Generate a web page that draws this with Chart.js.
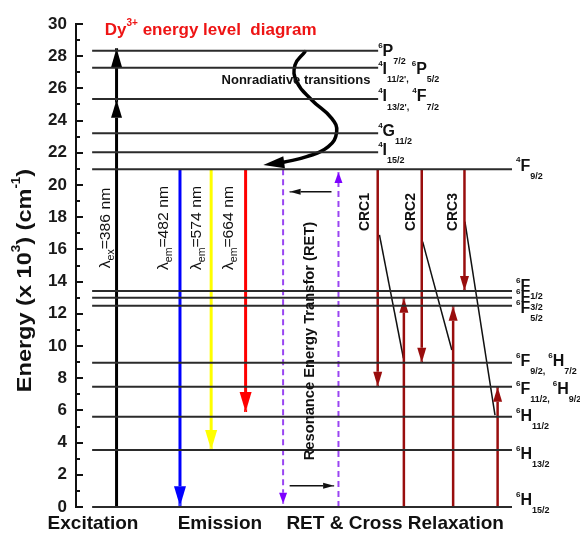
<!DOCTYPE html>
<html><head><meta charset="utf-8">
<script src="https://cdn.jsdelivr.net/npm/chart.js@4.4.0/dist/chart.umd.min.js"></script>
<style>html,body{margin:0;padding:0;background:#fff;}#wrap{width:580px;height:534px;}</style>
</head><body><div id="wrap"><canvas id="c" width="580" height="534"></canvas></div>
<script>
// ================= DATA =================
// Energy levels (x10^3 cm^-1)
const levelEnergies = [28.34, 27.29, 25.34, 23.21, 22.03, 20.98, 13.42, 13.0, 12.5, 8.96, 7.47, 5.61, 3.54, 0];
const levelStartX = 3.7;
const levelEndX = [69.3, 69.3, 69.3, 69.3, 69.3, 100, 100, 100, 100, 100, 100, 100, 100, 100];
// [superscript, term letter, subscript]
const levelLabels = [
  [['6','P','7/2']],
  [['4','I','11/2\','], ['6','P','5/2']],
  [['4','I','13/2\','], ['4','F','7/2']],
  [['4','G','11/2']],
  [['4','I','15/2']],
  [['4','F','9/2']],
  [['6','F','1/2']],
  [['6','F','3/2']],
  [['6','F','5/2']],
  [['6','F','9/2,'], ['6','H','7/2']],
  [['6','F','11/2,'], ['6','H','9/2']],
  [['6','H','11/2']],
  [['6','H','13/2']],
  [['6','H','15/2']]
];
// Excitation
const excitationX = 9.3;
const excitationFrom = 0;
const excitationTip = 28.5;
const excitationMidTip = 25.3;
const excitationLabel = ['λ', 'ex', '=386 nm'];
// Emission (from 4F9/2)
const emissionFrom = 20.98;
const emissionX = [23.85, 31.0, 38.9];
const emissionTip = [0.05, 3.54, 5.9];
const emissionLabels = [['λ','em','=482 nm'], ['λ','em','=574 nm'], ['λ','em','=664 nm']];
// Resonance energy transfer
const retX = [47.5, 60.2];
const retFrom = [20.98, 0];
const retTip = [0.2, 20.8];
const retSmallY = [19.58, 1.32];
const retSmallFromX = [58.6, 49.0];
const retSmallTipX = [49.0, 59.2];
const retLabel = 'Resonance Energy Transfor (RET)';
// Cross relaxation channels
const crcNames = ['CRC1', 'CRC2', 'CRC3'];
const crcDownX = [69.2, 79.3, 89.1];
const crcDownFrom = 20.98;
const crcDownTip = [7.47, 8.96, 13.42];
const crcUpX = [75.2, 86.5, 96.7];
const crcUpFrom = 0;
const crcUpTip = [13.0, 12.5, 7.47];
const crcDiagX0 = [69.6, 79.5, 89.2];
const crcDiagY0 = [16.9, 16.48, 17.72];
const crcDiagX1 = [75.1, 86.2, 96.1];
const crcDiagY1 = [9.24, 9.75, 5.71];
// Nonradiative relaxation curve
const nonradX = [52.52, 50.23, 50.62, 54.06, 58.65, 59.79, 57.87, 52.91, 47.55];
const nonradY = [28.28, 27.45, 26.42, 25.28, 24.14, 23.31, 22.38, 21.76, 21.41];
const nonradTip = [42.96, 21.24];
const nonradLabel = 'Nonradiative transitions';
// Group captions under the diagram
const groupLabels = ['Excitation', 'Emission', 'RET & Cross Relaxation'];
const groupCenters = [3.9, 33.0, 73.2];
// Axis
const yMin = 0, yMax = 30;
const titleParts = ['Dy', '3+', ' energy level  diagram'];
const yTitleParts = ['Energy (x 10', '3', ') (cm', '-1', ')'];

// ================= STYLE / BUILD =================
const FONT = '"Liberation Sans", Arial, Helvetica, sans-serif';
const levelLabelDy = [1, 2, -2, -2, -2, -3, -4, 0, 3, -1, 3, 0, 5, -6];
const levelLabelDx = [0, 0, 0, 0, 0, 4, 4, 4, 4, 4, 4, 4, 4, 4];

const base = {showLine: true, pointRadius: 0, pointHoverRadius: 0, fill: false, clip: false, tension: 0};
const datasets = [];
const line = (pts, color, width, extra) => Object.assign({}, base, {
  data: pts.map(p => ({x: p[0], y: p[1]})), borderColor: color, borderWidth: width
}, extra || {});

levelEnergies.forEach((e, i) => datasets.push(line([[levelStartX, e], [levelEndX[i], e]], '#2b2b2b', 2)));

// excitation
datasets.push(line([[excitationX, excitationFrom], [excitationX, excitationTip]], '#000', 3, {
  heads: [{tip: [excitationX, excitationTip], from: [excitationX, excitationFrom], len: 19, w: 11},
          {tip: [excitationX, excitationMidTip], from: [excitationX, excitationFrom], len: 18, w: 11}]
}));
// emission
const emissionColors = ['#0000ff', '#ffff00', '#ff0000'];
emissionX.forEach((x, i) => datasets.push(line([[x, emissionFrom], [x, emissionTip[i]]], emissionColors[i], 3, {
  heads: [{tip: [x, emissionTip[i]], from: [x, emissionFrom], len: 20, w: 12}]
})));
// RET dashed
retX.forEach((x, i) => datasets.push(line([[x, retFrom[i]], [x, retTip[i]]], '#9a45f2', 2, {
  borderDash: [6, 4], headColor: '#7d00ff',
  heads: [{tip: [x, retTip[i]], from: [x, retFrom[i]], len: 11, w: 8}]
})));
retSmallY.forEach((y, i) => datasets.push(line([[retSmallFromX[i], y], [retSmallTipX[i], y]], '#111', 1.3, {
  heads: [{tip: [retSmallTipX[i], y], from: [retSmallFromX[i], y], len: 11, w: 6}]
})));
// CRC
const crcColor = '#990d0d';
crcDownX.forEach((x, i) => datasets.push(line([[x, crcDownFrom], [x, crcDownTip[i]]], crcColor, 2.5, {
  heads: [{tip: [x, crcDownTip[i]], from: [x, crcDownFrom], len: 15, w: 9}]
})));
crcUpX.forEach((x, i) => datasets.push(line([[x, crcUpFrom], [x, crcUpTip[i]]], crcColor, 2.5, {
  heads: [{tip: [x, crcUpTip[i]], from: [x, crcUpFrom], len: 15, w: 9}]
})));
crcDiagX0.forEach((x, i) => datasets.push(line([[x, crcDiagY0[i]], [crcDiagX1[i], crcDiagY1[i]]], '#111', 1.5)));
// nonradiative curve
datasets.push(line(nonradX.map((x, i) => [x, nonradY[i]]), '#000', 3.5, {
  tension: 0.45, borderCapStyle: 'round',
  tailHead: {tip: nonradTip, from: [nonradX[nonradX.length - 1], nonradY[nonradY.length - 1]], len: 21, w: 12}
}));

function headPath(ctx, chart, h) {
  const xs = chart.scales.x, ys = chart.scales.y;
  const tx = xs.getPixelForValue(h.tip[0]), ty = ys.getPixelForValue(h.tip[1]);
  const fx = xs.getPixelForValue(h.from[0]), fy = ys.getPixelForValue(h.from[1]);
  let dx = tx - fx, dy = ty - fy; const L = Math.hypot(dx, dy) || 1; dx /= L; dy /= L;
  const bx = tx - dx * h.len, by = ty - dy * h.len;
  const px = -dy * h.w / 2, py = dx * h.w / 2;
  ctx.moveTo(tx, ty); ctx.lineTo(bx + px, by + py); ctx.lineTo(bx - px, by - py); ctx.closePath();
}

function drawRich(ctx, segs, x, y, o) {
  ctx.save();
  ctx.translate(x, y);
  if (o.rot) ctx.rotate(o.rot);
  if (o.sx) ctx.scale(o.sx, 1);
  ctx.textBaseline = 'middle'; ctx.textAlign = 'left';
  ctx.fillStyle = o.color || '#111';
  const fonts = segs.map(s => `${s.weight || o.weight || 'bold'} ${s.size}px ${FONT}`);
  const ws = segs.map((s, i) => { ctx.font = fonts[i]; return ctx.measureText(s.t).width; });
  const total = ws.reduce((a, b) => a + b, 0);
  let cx = o.align === 'center' ? -total / 2 : 0;
  segs.forEach((s, i) => { ctx.font = fonts[i]; ctx.fillText(s.t, cx, s.dy || 0); cx += ws[i] + (s.gap || 0); });
  ctx.restore();
  return total;
}

const arrowPlugin = {
  id: 'arrowheads',
  beforeDatasetDraw(chart, args) {
    const ds = chart.data.datasets[args.index];
    if (!ds.heads) return;
    const ctx = chart.ctx;
    ctx.save();
    ctx.beginPath();
    ctx.rect(0, 0, chart.width, chart.height);
    ds.heads.forEach(h => headPath(ctx, chart, h));
    ctx.clip('evenodd');
  },
  afterDatasetDraw(chart, args) {
    const ds = chart.data.datasets[args.index];
    const ctx = chart.ctx;
    if (ds.heads) {
      ctx.restore();
      ctx.save();
      ctx.fillStyle = ds.headColor || ds.borderColor;
      ds.heads.forEach(h => { ctx.beginPath(); headPath(ctx, chart, h); ctx.fill(); });
      ctx.restore();
    }
    if (ds.tailHead) {
      ctx.save(); ctx.fillStyle = ds.borderColor;
      ctx.beginPath(); headPath(ctx, chart, ds.tailHead); ctx.fill(); ctx.restore();
    }
  }
};

const decorPlugin = {
  id: 'decor',
  afterDatasetsDraw(chart) {
    const ctx = chart.ctx, xs = chart.scales.x, ys = chart.scales.y, a = chart.chartArea;
    // inward tick marks (major every 2, minor odd)
    ctx.save(); ctx.strokeStyle = '#111'; ctx.lineWidth = 2;
    for (let v = yMin; v <= yMax; v++) {
      const y = Math.round(ys.getPixelForValue(v));
      ctx.beginPath(); ctx.moveTo(a.left, y); ctx.lineTo(a.left + (v % 2 === 0 ? 7 : 4), y); ctx.stroke();
    }
    ctx.restore();
    // level labels
    levelLabels.forEach((parts, i) => {
      let x = xs.getPixelForValue(levelEndX[i]) + levelLabelDx[i];
      const y = ys.getPixelForValue(levelEnergies[i]) + levelLabelDy[i];
      parts.forEach(p => {
        const segs = [{t: p[0], size: 8, dy: -6}, {t: p[1], size: 16, dy: 0}, {t: p[2], size: 9, dy: 10}];
        const w = drawRich(ctx, segs, x, y, {color: '#111'});
        x += w + 3;
      });
    });
    // title
    drawRich(ctx, [{t: titleParts[0], size: 17}, {t: titleParts[1], size: 10, dy: -7}, {t: titleParts[2], size: 17}],
      xs.getPixelForValue(6.6), ys.getPixelForValue(29.6), {color: '#ee1414'});
    // y axis title
    drawRich(ctx, [{t: yTitleParts[0], size: 21}, {t: yTitleParts[1], size: 12, dy: -8}, {t: yTitleParts[2], size: 21},
      {t: yTitleParts[3], size: 12, dy: -8}, {t: yTitleParts[4], size: 21}],
      25, (a.top + a.bottom) / 2 + 15, {rot: -Math.PI / 2, align: 'center', sx: 1.12, color: '#111'});
    // lambda labels
    const lamY = ys.getPixelForValue(17.33);
    const lam = (p, xv) => drawRich(ctx, [{t: p[0], size: 15, weight: 'normal'}, {t: p[1], size: 10, dy: 5, weight: 'normal'},
      {t: p[2], size: 15, weight: 'normal'}], xs.getPixelForValue(xv), lamY, {rot: -Math.PI / 2, align: 'center', sx: 1.05, color: '#111'});
    lam(excitationLabel, 6.88);
    const lamXs = [20.18, 27.75, 35.09];
    emissionLabels.forEach((p, i) => lam(p, lamXs[i]));
    // RET label
    drawRich(ctx, [{t: retLabel, size: 14}], xs.getPixelForValue(53.67), ys.getPixelForValue(10.31),
      {rot: -Math.PI / 2, align: 'center', sx: 1.05, color: '#111'});
    // CRC labels
    const crcLabelX = [66.28, 76.77, 86.54];
    crcNames.forEach((n, i) => drawRich(ctx, [{t: n, size: 14}], xs.getPixelForValue(crcLabelX[i]), ys.getPixelForValue(18.32),
      {rot: -Math.PI / 2, align: 'center', color: '#111'}));
    // nonradiative text
    drawRich(ctx, [{t: nonradLabel, size: 13}], xs.getPixelForValue(50.46), ys.getPixelForValue(26.52), {align: 'center', color: '#111'});
    // group captions
    groupLabels.forEach((g, i) => drawRich(ctx, [{t: g, size: 19}], xs.getPixelForValue(groupCenters[i]), ys.getPixelForValue(-1.06),
      {align: 'center', color: '#111'}));
  }
};

new Chart(document.getElementById('c'), {
  type: 'scatter',
  data: {datasets},
  options: {
    responsive: false, animation: false, devicePixelRatio: 1,
    events: [],
    layout: {padding: {left: 0, right: 68, top: 24, bottom: 27}},
    plugins: {legend: {display: false}, tooltip: {enabled: false}, title: {display: false}},
    scales: {
      x: {type: 'linear', min: 0, max: 100, display: false},
      y: {
        type: 'linear', min: yMin, max: yMax,
        afterFit(s) { s.width = 76; },
        border: {display: true, color: '#111', width: 2},
        grid: {drawOnChartArea: false, drawTicks: false},
        ticks: {stepSize: 1, autoSkip: false, padding: 9, color: '#1a1a1a',
          font: {family: FONT, weight: 'bold', size: 17},
          callback: v => (v % 2 === 0 ? String(v) : '')}
      }
    }
  },
  plugins: [arrowPlugin, decorPlugin]
});
</script></body></html>
